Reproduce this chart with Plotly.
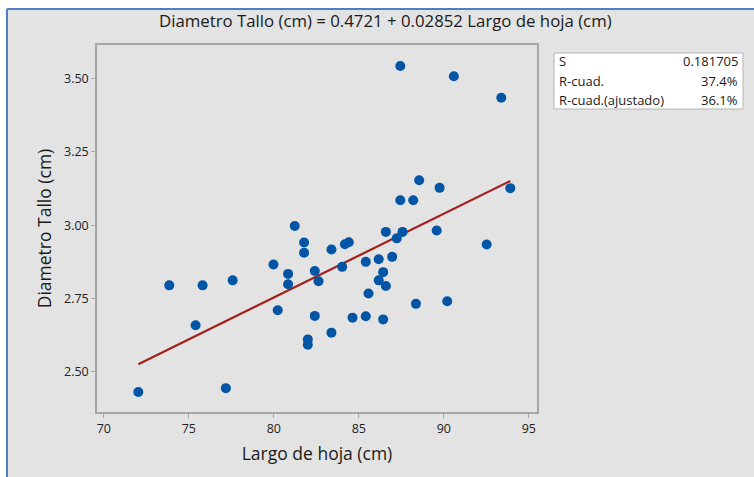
import numpy as np
import plotly.graph_objects as go

# ---- data ----
largo_hoja = [72.03, 73.85, 75.40, 75.81, 77.18, 77.58, 79.98, 80.23, 80.84, 80.84,
              81.23, 81.78, 81.78, 82.00, 82.00, 82.41, 82.63, 82.41, 83.39, 83.39,
              84.02, 84.18, 84.41, 84.63, 85.41, 85.41, 85.57, 86.17, 86.17, 86.43,
              86.43, 86.59, 86.59, 86.96, 87.23, 87.57, 87.44, 87.44, 88.20, 88.36,
              88.55, 89.58, 89.75, 90.20, 90.59, 92.52, 93.38, 93.91]
diametro_tallo = [2.432, 2.795, 2.659, 2.795, 2.445, 2.812, 2.866, 2.710, 2.834, 2.799,
                  2.997, 2.941, 2.906, 2.611, 2.593, 2.844, 2.809, 2.691, 2.917, 2.634,
                  2.858, 2.935, 2.942, 2.685, 2.875, 2.690, 2.767, 2.884, 2.812, 2.840,
                  2.679, 2.793, 2.977, 2.892, 2.955, 2.977, 3.085, 3.542, 3.085, 2.732,
                  3.153, 2.982, 3.127, 2.741, 3.507, 2.934, 3.434, 3.126]
intercept = 0.4721
slope = 0.02852
stat_labels = ["S", "R-cuad.", "R-cuad.(ajustado)"]
stat_values = ["0.181705", "37.4%", "36.1%"]
x_ticks = [70, 75, 80, 85, 90, 95]
y_ticks = [2.50, 2.75, 3.00, 3.25, 3.50]

W, H = 754, 477
L, R, T, B = 97, 217, 45, 65
PW, PH = W - L - R, H - T - B

def px(xp):
    return (xp - L) / PW

def py(yp):
    return (H - B - yp) / PH

FONT = "Open Sans"
BLUE = "#0255a5"
RED = "#a3201d"
GREY_BG = "#e3e3e3"
AXIS = "#a6a6a6"
TXT = "#1a1a1a"

xl = np.array([min(largo_hoja), max(largo_hoja)])
yl = intercept + slope * xl

fig = go.Figure()
fig.add_trace(go.Scatter(x=xl, y=yl, mode="lines",
                         line=dict(color=RED, width=2.2), hoverinfo="skip"))
fig.add_trace(go.Scatter(x=largo_hoja, y=diametro_tallo, mode="markers",
                         marker=dict(color=BLUE, size=10, line=dict(width=0))))

shapes = [
    dict(type="rect", xref="paper", yref="paper", x0=px(8), x1=px(760), y0=py(480), y1=py(9),
         fillcolor=GREY_BG, line=dict(width=0), layer="below"),
    dict(type="line", xref="paper", yref="paper", x0=px(7), x1=px(760), y0=py(9), y1=py(9),
         line=dict(color="#4f7fc2", width=2)),
    dict(type="line", xref="paper", yref="paper", x0=px(7), x1=px(7), y0=py(480), y1=py(9),
         line=dict(color="#4f7fc2", width=2)),
    dict(type="rect", xref="paper", yref="paper", x0=px(554), x1=px(743), y0=py(109), y1=py(53),
         fillcolor="white", line=dict(color="#b4b4b4", width=1)),
]

annotations = [
    dict(text="Diametro Tallo (cm) = 0.4721 + 0.02852 Largo de hoja (cm)",
         xref="paper", yref="paper", x=px(385), y=py(21), showarrow=False,
         xanchor="center", yanchor="middle", font=dict(family=FONT, size=16.8, color=TXT)),
]
row_y = [61, 81, 100]
for lab, val, ry in zip(stat_labels, stat_values, row_y):
    annotations.append(dict(text=lab, xref="paper", yref="paper", x=px(557), y=py(ry),
                            showarrow=False, xanchor="left", yanchor="middle",
                            font=dict(family=FONT, size=13, color=TXT)))
    annotations.append(dict(text=val, xref="paper", yref="paper", x=px(740), y=py(ry),
                            showarrow=False, xanchor="right", yanchor="middle",
                            font=dict(family=FONT, size=13, color=TXT)))

fig.update_layout(
    width=W, height=H,
    margin=dict(l=L, r=R, t=T, b=B, pad=0),
    paper_bgcolor="white", plot_bgcolor="white",
    showlegend=False,
    shapes=shapes, annotations=annotations,
    font=dict(family=FONT, color="#222222"),
)
fig.update_xaxes(range=[69.6, 95.48], tickvals=x_ticks, ticks="outside", ticklen=4,
                 tickcolor=AXIS, showline=True, linecolor=AXIS, linewidth=1.5, mirror=True,
                 showgrid=False, zeroline=False, tickfont=dict(size=12.5, color="#222222"),
                 title=dict(text="Largo de hoja (cm)", font=dict(size=17.5, color=TXT), standoff=12))
fig.update_yaxes(range=[2.3637, 3.6135], tickvals=y_ticks, tickformat=".2f", ticks="outside",
                 ticklen=4, tickcolor=AXIS, showline=True, linecolor=AXIS, linewidth=1.5, mirror=True,
                 showgrid=False, zeroline=False, tickfont=dict(size=12.5, color="#222222"),
                 title=dict(text="Diametro Tallo (cm)", font=dict(size=17.5, color=TXT), standoff=8))

fig.write_html("out.html", config={"displayModeBar": False},
               post_script="document.body.style.margin='0';")
